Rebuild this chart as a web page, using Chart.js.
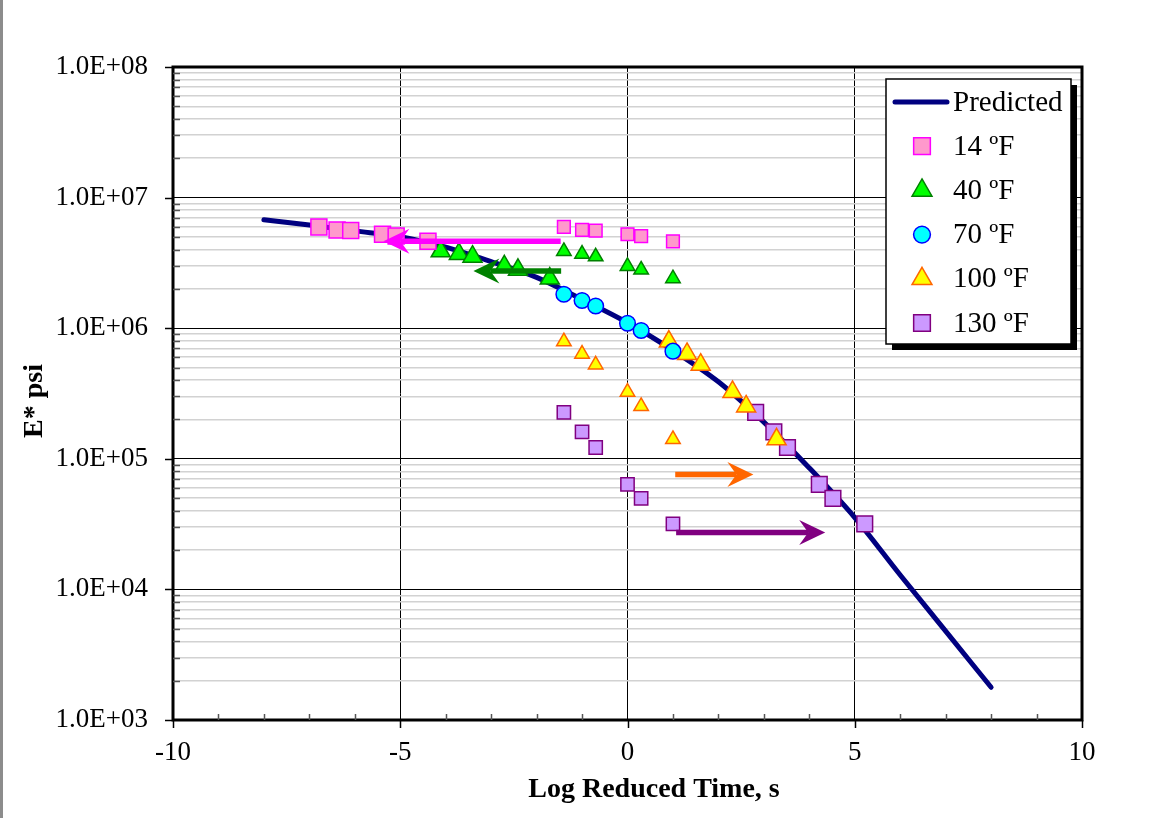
<!DOCTYPE html>
<html>
<head>
<meta charset="utf-8">
<script src="https://cdn.jsdelivr.net/npm/chart.js@4.4.1/dist/chart.umd.min.js"></script>
<style>
  html, body { margin: 0; padding: 0; background: #fff; }
  #wrap { position: relative; width: 1151px; height: 818px; }
  #edge { position: absolute; left: 0; top: 0; width: 3px; height: 818px; background: #8c8c8c; }
</style>
</head>
<body>
<div id="wrap">
  <canvas id="master" width="1151" height="818"></canvas>
  <div id="edge"></div>
</div>
<script>
const serif = '"Liberation Serif", "Times New Roman", serif';

// measured log reduced time of the raw test frequencies
const rawLogTime = [-1.40, -1.00, -0.70, 0.00, 0.30, 1.00];

// E* (psi) per test temperature
const e14 = [5.96e6, 5.65e6, 5.59e6, 5.24e6, 5.08e6, 4.63e6];
const e40 = [3.88e6, 3.70e6, 3.53e6, 2.98e6, 2.80e6, 2.40e6];
const e70 = [1.82e6, 1.63e6, 1.48e6, 1.09e6, 9.6e5, 6.67e5];
const e100 = [7.9e5, 6.35e5, 5.25e5, 3.25e5, 2.52e5, 1.41e5];
const e130 = [2.27e5, 1.61e5, 1.22e5, 6.38e4, 4.98e4, 3.17e4];

// shifted (reduced) log time of the same points
const shifted14 = [-6.79, -6.39, -6.09, -5.39, -5.09, -4.39];
const shifted40 = [-4.11, -3.71, -3.41, -2.71, -2.41, -1.71];
const shifted70 = [-1.40, -1.00, -0.70, 0.00, 0.30, 1.00];
const shifted100 = [0.91, 1.31, 1.61, 2.31, 2.61, 3.28];
const shifted130 = [2.82, 3.22, 3.52, 4.22, 4.52, 5.22];

// predicted master curve
const predTime = [-8, -7, -6, -5, -4, -3, -2, -1, 0, 1, 2, 3, 4, 5, 6, 7, 8];
const predModulus = [6.76e6, 6.17e6, 5.56e6, 5.01e6, 4.17e6, 3.24e6, 2.45e6, 1.66e6, 1.10e6,
  6.76e5, 3.89e5, 1.91e5, 8.51e4, 3.55e4, 1.29e4, 4.79e3, 1.78e3];

// shift arrows: from raw data towards the master curve
const arrowFrom = [-1.47, -1.46, 1.05, 1.07];
const arrowTo = [-5.37, -3.39, 2.77, 4.35];
const arrowAt = [4.63e6, 2.74e6, 7.57e4, 2.73e4];
const arrowColor = ['#ff00ff', '#008000', '#ff6600', '#800080'];

const decades = [1e3, 1e4, 1e5, 1e6, 1e7, 1e8];

const pts = (xs, ys) => xs.map((x, i) => ({ x: x, y: ys[i] }));
const isDecade = (v) => Math.abs(Math.log10(v) - Math.round(Math.log10(v))) < 1e-9;
const sci = (v) => {
	const exp = Math.round(Math.log10(v));
	return "1.0E+" + String(exp).padStart(2, "0");
};

function marker(label, data, style, radius, fill, edge, inLegend) {
	return {
		label: label,
		data: data,
		pointStyle: style,
		pointRadius: radius,
		pointBackgroundColor: fill,
		pointBorderColor: edge,
		pointBorderWidth: 1.5,
		showLine: false,
		inLegend: inLegend,
		order: 1,
	};
}

const datasets = [
	marker("14 ºF", pts(shifted14, e14), "rect", 11.3, "#ff99cc", "#ff00ff", true),
	marker("14 ºF raw", pts(rawLogTime, e14), "rect", 9, "#ff99cc", "#ff00ff", false),
	marker("40 ºF", pts(shifted40, e40), "triangle", 11, "#00ff00", "#008000", true),
	marker("40 ºF raw", pts(rawLogTime, e40), "triangle", 8.4, "#00ff00", "#008000", false),
	marker("70 ºF", pts(shifted70, e70), "circle", 7.8, "#00ffff", "#0000ff", true),
	marker("100 ºF", pts(shifted100, e100), "triangle", 11, "#ffff00", "#ff6600", true),
	marker("100 ºF raw", pts(rawLogTime, e100), "triangle", 8.4, "#ffff00", "#ff6600", false),
	marker("130 ºF", pts(shifted130, e130), "rect", 11.1, "#cc99ff", "#800080", true),
	marker("130 ºF raw", pts(rawLogTime, e130), "rect", 9.4, "#cc99ff", "#800080", false),
	{
		label: "Predicted",
		data: pts(predTime, predModulus),
		showLine: true,
		borderColor: "#000080",
		borderWidth: 5,
		borderCapStyle: "round",
		cubicInterpolationMode: "monotone",
		pointRadius: 0,
		inLegend: true,
		order: 5,
	},
];

function drawArrow(ctx, x0, x1, y, color) {
	const dir = x1 > x0 ? 1 : -1;
	const len = 26, half = 12.5, notch = 17;
	ctx.save();
	ctx.strokeStyle = color;
	ctx.fillStyle = color;
	ctx.lineWidth = 5.5;
	ctx.beginPath();
	ctx.moveTo(x0, y);
	ctx.lineTo(x1 - dir * notch, y);
	ctx.stroke();
	ctx.beginPath();
	ctx.moveTo(x1, y);
	ctx.lineTo(x1 - dir * len, y - half);
	ctx.lineTo(x1 - dir * notch, y);
	ctx.lineTo(x1 - dir * len, y + half);
	ctx.closePath();
	ctx.fill();
	ctx.restore();
}

const decorations = {
	id: "decorations",
	afterDraw(chart) {
		const { ctx, chartArea: area, scales } = chart;
		const xs = scales.x, ys = scales.y;

		// shift arrows
		arrowFrom.forEach((from, i) => {
			drawArrow(ctx, xs.getPixelForValue(from), xs.getPixelForValue(arrowTo[i]),
				ys.getPixelForValue(arrowAt[i]), arrowColor[i]);
		});

		// plot frame
		ctx.save();
		ctx.strokeStyle = "#000";
		ctx.lineWidth = 3;
		ctx.strokeRect(area.left, area.top, area.right - area.left, area.bottom - area.top);

		// x tick marks: majors outward, minors inward
		ctx.lineWidth = 1.5;
		for (let v = -10; v <= 10; v++) {
			const px = Math.round(xs.getPixelForValue(v)) + 0.5;
			ctx.beginPath();
			if (v % 5 === 0) {
				ctx.strokeStyle = "#000";
				ctx.moveTo(px, area.bottom);
				ctx.lineTo(px, area.bottom + 8);
			} else {
				ctx.strokeStyle = "#555";
				ctx.moveTo(px, area.bottom);
				ctx.lineTo(px, area.bottom - 6);
			}
			ctx.stroke();
		}
		// y tick marks
		ys.ticks.forEach((t) => {
			const py = Math.round(ys.getPixelForValue(t.value)) + 0.5;
			ctx.beginPath();
			if (isDecade(t.value)) {
				ctx.strokeStyle = "#000";
				ctx.moveTo(area.left - 8, py);
				ctx.lineTo(area.left, py);
			} else {
				ctx.strokeStyle = "#555";
				ctx.moveTo(area.left, py);
				ctx.lineTo(area.left + 7, py);
			}
			ctx.stroke();
		});

		// axis titles
		ctx.fillStyle = "#000";
		ctx.font = "bold 28px " + serif;
		ctx.textAlign = "center";
		ctx.textBaseline = "middle";
		ctx.fillText("Log Reduced Time, s", 654, 790);
		ctx.save();
		ctx.translate(35, 401);
		ctx.rotate(-Math.PI / 2);
		ctx.fillText("E* psi", 0, 0);
		ctx.restore();

		// legend box with shadow
		const bx = area.right - 196, by = area.top + 12, bw = 185, bh = 265;
		ctx.fillStyle = "#000";
		ctx.fillRect(bx + 6, by + 6, bw, bh);
		ctx.fillStyle = "#fff";
		ctx.fillRect(bx, by, bw, bh);
		ctx.strokeStyle = "#000";
		ctx.lineWidth = 1.5;
		ctx.strokeRect(bx, by, bw, bh);

		const items = chart.data.datasets.filter((d) => d.inLegend);
		items.sort((a, b) => (a.label === "Predicted" ? -1 : b.label === "Predicted" ? 1 : 0));
		ctx.font = "29px " + serif;
		ctx.textAlign = "left";
		items.forEach((d, i) => {
			const cy = by + 23 + i * 44.2;
			if (d.showLine) {
				ctx.strokeStyle = d.borderColor;
				ctx.lineWidth = 5;
				ctx.lineCap = "round";
				ctx.beginPath();
				ctx.moveTo(bx + 9, cy);
				ctx.lineTo(bx + 61, cy);
				ctx.stroke();
			} else {
				ctx.lineWidth = d.pointBorderWidth;
				ctx.fillStyle = d.pointBackgroundColor;
				ctx.strokeStyle = d.pointBorderColor;
				const r = d.pointStyle === "circle" ? 8.4 : d.pointStyle === "triangle" ? 11.5 : 11.8;
				Chart.helpers.drawPoint(ctx, { pointStyle: d.pointStyle, radius: r, borderWidth: 1.5 }, bx + 36, cy);
			}
			ctx.fillStyle = "#000";
			ctx.fillText(d.label, bx + 67, cy + 1);
		});
		ctx.restore();
	},
};

const yTicks = [];
decades.forEach((d) => {
	if (d === 1e8) { yTicks.push(d); return; }
	for (let m = 1; m <= 9; m++) yTicks.push(m * d);
});

new Chart(document.getElementById("master"), {
	type: "scatter",
	data: { datasets: datasets },
	plugins: [decorations],
	options: {
		responsive: false,
		animation: false,
		devicePixelRatio: 1,
		layout: { padding: { left: 0, top: 67, right: 69, bottom: 0 } },
		plugins: { legend: { display: false }, tooltip: { enabled: false } },
		scales: {
			x: {
				type: "linear",
				min: -10,
				max: 10,
				afterFit: (scale) => { scale.height = 98; },
				border: { display: false },
				grid: {
					drawTicks: false,
					color: (c) => (c.tick && c.tick.value % 5 === 0 ? "#000" : "rgba(0,0,0,0)"),
					lineWidth: 1,
				},
				ticks: {
					stepSize: 5,
					padding: 17,
					color: "#000",
					font: { family: serif, size: 27 },
					callback: (v) => String(v),
				},
			},
			y: {
				type: "logarithmic",
				min: 1e3,
				max: 1e8,
				afterFit: (scale) => { scale.width = 173; },
				afterBuildTicks: (scale) => { scale.ticks = yTicks.map((v) => ({ value: v, major: isDecade(v) })); },
				border: { display: false },
				grid: {
					drawTicks: false,
					color: (c) => (c.tick && isDecade(c.tick.value) ? "#000" : "#d2d2d2"),
					lineWidth: (c) => (c.tick && isDecade(c.tick.value) ? 1 : 1.6),
				},
				ticks: {
					autoSkip: false,
					padding: 25,
					color: "#000",
					font: { family: serif, size: 27 },
					callback: (v) => (isDecade(v) ? sci(v) : ""),
				},
			},
		},
	},
});
</script>
</body>
</html>
